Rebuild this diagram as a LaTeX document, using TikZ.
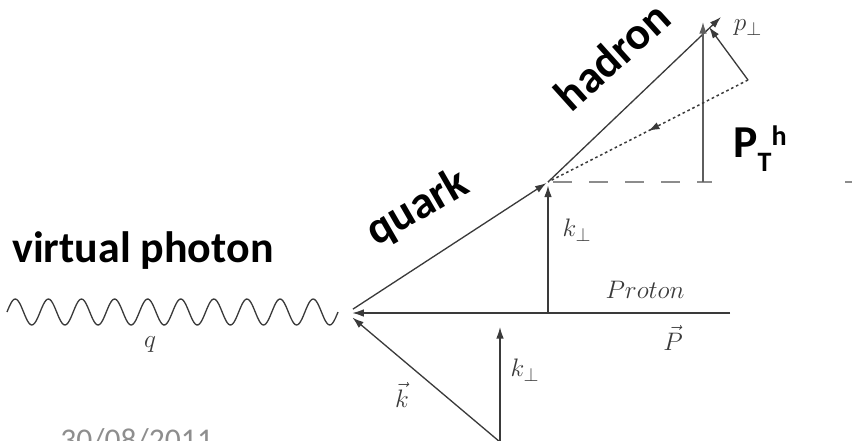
\documentclass[tikz,border=0pt]{standalone}
\usepackage{fontspec}
\newfontfamily\calibri{Carlito}
\usetikzlibrary{arrows.meta,decorations.markings}
\definecolor{sidisline}{HTML}{3A3A3A}
\definecolor{sidisgrey}{HTML}{5E5E5E}
\definecolor{sidisdash}{HTML}{8C8C8C}
\definecolor{sidisdate}{HTML}{8E8E8E}

\begin{document}
\begin{tikzpicture}[
  x=0.02cm, y=-0.02cm,
  vec/.style={-{Latex[length=2.3mm,width=1.5mm]}, line width=0.75pt, draw=sidisline},
  photon/.style={draw=sidisline, line width=0.75pt, smooth},
  dotvec/.style={draw=sidisline, line width=0.85pt, dash pattern=on 1.5pt off 1.6pt,
                 postaction={decorate}, decoration={markings,
                 mark=at position 0.5 with {\arrow{Latex[length=2.3mm,width=1.5mm]}}}},
  dashline/.style={draw=sidisdash, line width=0.8pt, dash pattern=on 0.38cm off 0.34cm},
  maths/.style={text=sidisline, font=\fontsize{15.5}{18}\selectfont, inner sep=0pt},
  word/.style={font=\calibri\bfseries\fontsize{26}{30}\selectfont, inner sep=0pt}
]
\useasboundingbox (0,0) rectangle (852,440);
% kinematic points
\coordinate (vtx) at (347,313);
\coordinate (had) at (548,182);
\coordinate (htip) at (721,17);
\coordinate (ptbase) at (703,182);
\coordinate (pttip) at (703,22);
\coordinate (zq) at (748,80);
\coordinate (pptip) at (709,27);
\coordinate (pstart) at (730,313);
\coordinate (kup) at (548,313);
\coordinate (kstart) at (500,442);
\coordinate (klow) at (500,327);
\coordinate (dashend) at (852,182);
% lines
\draw[photon] plot[domain=7:338, samples=240] (\x, {312-13*sin(10.876*(\x-7))});
\draw[vec, shorten <=4pt, shorten >=1pt] (vtx) -- (had);
\draw[vec] (had) -- (htip);
\draw[vec, shorten >=3pt] (pstart) -- (vtx);
\draw[vec, shorten >=4pt] (kstart) -- (vtx);
\draw[vec] (kstart) -- (klow);
\draw[vec, shorten >=2pt] (kup) -- (had);
\draw[dashline, shorten <=3pt] (had) -- (dashend);
\draw[vec, draw=sidisgrey] (ptbase) -- (pttip);
\draw[vec] (zq) -- (pptip);
\draw[dotvec] (zq) -- (had);
% labels
\node[maths] (qlbl) at (150,345) {$q$};
\node[maths] (klbl) at (402,395) {$\vec{k}$};
\node[maths] (kperplow) at (525,370) {$k_\perp$};
\node[maths] (kperpup) at (577,230) {$k_\perp$};
\node[maths] (protonlbl) at (645,290) {$Proton$};
\node[maths] (plbl) at (673,338) {$\vec{P}$};
\node[maths] (pperp) at (748,28) {$p_\perp$};
\node[word, font=\calibri\bfseries\fontsize{25}{30}\selectfont, anchor=base west] (photonlbl) at (12,262) {virtual photon};
\node[word, rotate=30] (quarklbl) at (418,208) {quark};
\node[word, rotate=42] (hadronlbl) at (612,56) {hadron};
\node[word, fill=white, inner xsep=0.42cm, inner ysep=0.25cm, anchor=base west] (pthlbl) at (712,157)
  {P\raisebox{-8.5pt}{\fontsize{16}{16}\selectfont T}\raisebox{6.8pt}{\fontsize{16}{16}\selectfont h}\kern0.75cm};
\node[font=\calibri\fontsize{18}{20}\selectfont, text=sidisdate, inner sep=0pt, anchor=base west] (datelbl) at (60,450) {30/08/2011};
\end{tikzpicture}
\end{document}
